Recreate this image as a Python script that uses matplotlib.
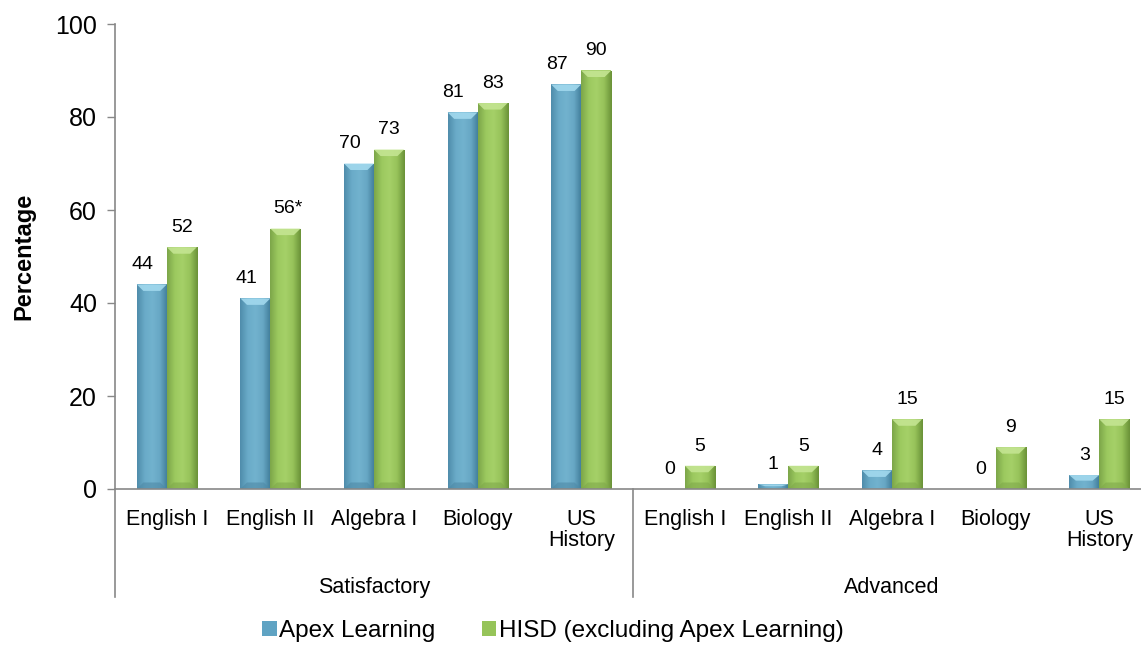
import matplotlib
matplotlib.use("Agg")
import matplotlib.pyplot as plt
import numpy as np
from matplotlib.colors import LinearSegmentedColormap
from matplotlib.patches import Polygon, Patch

plt.rcParams['font.family'] = ['Liberation Sans', 'DejaVu Sans']

subjects = ["English I", "English II", "Algebra I", "Biology", "US\nHistory"]
groups = ["Satisfactory", "Advanced"]
apex = [44, 41, 70, 81, 87, 0, 1, 4, 0, 3]
hisd = [52, 56, 73, 83, 90, 5, 5, 15, 9, 15]
hisd_labels = ["52", "56*", "73", "83", "90", "5", "5", "15", "9", "15"]
series_names = ["Apex Learning", "HISD (excluding Apex Learning)"]
yticks = [0, 20, 40, 60, 80, 100]

W, H = 1141, 648
fig = plt.figure(figsize=(W / 100, H / 100), dpi=100)
ax = fig.add_axes([115 / W, (H - 489) / H, (1151 - 115) / W, 465 / H])

n = len(apex)
x = np.arange(n)
bw = 0.29

blue_cmap = LinearSegmentedColormap.from_list("b", ["#4f8cab", "#6aabc8", "#72b2ce", "#67a7c4", "#3f7b98"])
green_cmap = LinearSegmentedColormap.from_list("g", ["#7ca649", "#9cc95f", "#a5d068", "#97c35a", "#6a9238"])
blue_top = "#a2d9ee"
green_top = "#c4e592"
blue_bot = "#4e89a6"
green_bot = "#7fa94a"

grad = np.linspace(0, 1, 64).reshape(1, -1)

def draw_bars(xs, vals, cmap, topcol, botcol, label, solid):
    bars = ax.bar(xs, vals, bw, color=solid, label=label, zorder=2, linewidth=0)
    for b, v in zip(bars, vals):
        if v <= 0:
            continue
        x0, w, h = b.get_x(), b.get_width(), b.get_height()
        im = ax.imshow(grad, cmap=cmap, aspect='auto', extent=[x0, x0 + w, 0, h],
                       zorder=3, interpolation='bicubic')
        im.set_clip_path(b)
        bev = min(1.4, h * 0.4)
        tri = Polygon([[x0, h], [x0 + w, h], [x0 + w * 0.78, h - bev], [x0 + w * 0.22, h - bev]],
                      closed=True, facecolor=topcol, edgecolor='none', zorder=4, alpha=0.9)
        ax.add_patch(tri)
        if h > 4:
            tb = Polygon([[x0, 0], [x0 + w, 0], [x0 + w * 0.78, bev], [x0 + w * 0.22, bev]],
                         closed=True, facecolor=botcol, edgecolor='none', zorder=4, alpha=0.6)
            ax.add_patch(tb)
    return bars

draw_bars(x - bw / 2, apex, blue_cmap, blue_top, blue_bot, series_names[0], "#5fa3c3")
draw_bars(x + bw / 2, hisd, green_cmap, green_top, green_bot, series_names[1], "#96c459")

for i, (xi, v) in enumerate(zip(x - bw / 2, apex)):
    dx = -0.09 if v >= 10 else 0.0
    ax.text(xi + dx, v + 2.4, str(v), ha='center', va='bottom', fontsize=14)
for xi, v, lab in zip(x + bw / 2, hisd, hisd_labels):
    ax.text(xi + (0.02 if '*' in lab else 0.0), v + 2.4, lab, ha='center', va='bottom', fontsize=14)

ax.set_xlim(-0.5, n - 0.5)
ax.set_ylim(0, 100)
ax.set_yticks(yticks)
ax.set_yticklabels([str(t) for t in yticks], fontsize=18)
ax.tick_params(axis='y', direction='out', length=6, width=1, color='#888888', pad=7)
ax.set_xticks([])
ax.set_ylabel("Percentage", fontsize=17, fontweight='bold', labelpad=14)

for s in ['top', 'right']:
    ax.spines[s].set_visible(False)
for s in ['left', 'bottom']:
    ax.spines[s].set_color('#888888')
    ax.spines[s].set_linewidth(1.2)
ax.spines['bottom'].set_zorder(5)

# category labels
trans = ax.get_xaxis_transform()
for i in range(n):
    ax.text(i, -0.042, subjects[i % 5], ha='center', va='top', fontsize=15.5,
            transform=trans, linespacing=1.0)
for g, name in enumerate(groups):
    ax.text(g * 5 + 2, -0.19, name, ha='center', va='top', fontsize=15.5, transform=trans)

# group separator lines
for xb in [-0.5, 4.5, 9.5]:
    ax.plot([xb, xb], [0, -0.233], transform=trans, color='#888888', lw=1.2,
            clip_on=False, zorder=5)

# legend
handles = [Patch(facecolor="#5fa3c3", edgecolor='none'), Patch(facecolor="#96c459", edgecolor='none')]
fig.legend(handles, series_names, loc='center', bbox_to_anchor=(553 / W, (H - 631) / H),
           ncol=2, frameon=False, fontsize=17.5, handlelength=0.6, handleheight=0.6,
           handletextpad=0.1, columnspacing=1.9, borderpad=0, borderaxespad=0)

fig.savefig("out.png", dpi=100)
